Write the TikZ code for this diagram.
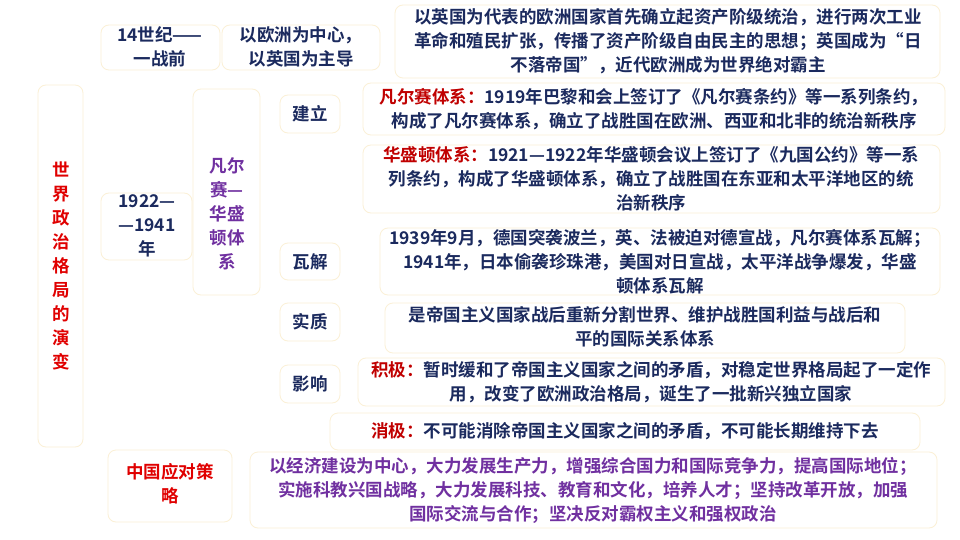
\documentclass[tikz,border=0pt]{standalone}
\usepackage{fontspec}
\setmainfont{Noto Sans CJK SC}[BoldFont={* Bold}]
\definecolor{navy}{HTML}{1B2A5E}
\definecolor{myred}{HTML}{E00000}
\definecolor{dred}{HTML}{C00000}
\definecolor{purp}{HTML}{7030A0}
\definecolor{edge}{HTML}{FBF0D6}
\begin{document}
\begin{tikzpicture}[x=1pt,y=-1pt,
  bx/.style={draw=edge,line width=0.8pt,rounded corners=8pt},
  tx/.style={font=\bfseries\fontsize{17.5}{24}\selectfont,text=navy,align=center,inner sep=0pt}]
\useasboundingbox[fill=white] (0,0) rectangle (960,540);
% boxes
\draw[bx] (101,25) rectangle (220,70);
\draw[bx] (222,25) rectangle (380,70);
\draw[bx] (395,5) rectangle (940,78);
\draw[bx] (38,85) rectangle (83,447);
\draw[bx] (101,193) rectangle (192,260);
\draw[bx] (193,89) rectangle (260,295);
\draw[bx] (280,95) rectangle (340,133);
\draw[bx] (363,83) rectangle (945,135);
\draw[bx] (363,145) rectangle (940,213);
\draw[bx] (280,243) rectangle (340,280);
\draw[bx] (380,228) rectangle (940,295);
\draw[bx] (280,303) rectangle (340,341);
\draw[bx] (385,303) rectangle (905,353);
\draw[bx] (280,365) rectangle (340,403);
\draw[bx] (358,358) rectangle (945,406);
\draw[bx] (330,413) rectangle (920,450);
\draw[bx] (108,450) rectangle (232,522);
\draw[bx] (250,452) rectangle (937,528);
% texts
\node[tx] (a) at (160,47) {14世纪——\\一战前};
\node[tx] (b) at (301,47) {以欧洲为中心，\\以英国为主导};
\node[tx] (c) at (668,41) {以英国为代表的欧洲国家首先确立起资产阶级统治，进行两次工业\\革命和殖民扩张，传播了资产阶级自由民主的思想；英国成为“日\\不落帝国”，近代欧洲成为世界绝对霸主};
\node[tx,text=myred] (root) at (61,266) {世\\界\\政\\治\\格\\局\\的\\演\\变};
\node[tx] (d) at (147,226) {1922—\\—1941\\年};
\node[tx,text=purp] (e) at (227,214) {凡尔\\赛—\\华盛\\顿体\\系};
\node[tx] (f1) at (310,114) {建立};
\node[tx] (f2) at (654,109) {\textcolor{dred}{凡尔赛体系：}1919年巴黎和会上签订了《凡尔赛条约》等一系列条约，\\构成了凡尔赛体系，确立了战胜国在欧洲、西亚和北非的统治新秩序};
\node[tx] (g) at (651,179) {\textcolor{dred}{华盛顿体系：}1921—1922年华盛顿会议上签订了《九国公约》等一系\\列条约，构成了华盛顿体系，确立了战胜国在东亚和太平洋地区的统\\治新秩序};
\node[tx] (h1) at (310,262) {瓦解};
\node[tx] (h2) at (660,262) {1939年9月，德国突袭波兰，英、法被迫对德宣战，凡尔赛体系瓦解；\\1941年，日本偷袭珍珠港，美国对日宣战，太平洋战争爆发，华盛\\顿体系瓦解};
\node[tx] (i1) at (310,322) {实质};
\node[tx] (i2) at (645,327) {是帝国主义国家战后重新分割世界、维护战胜国利益与战后和\\平的国际关系体系};
\node[tx] (j1) at (310,384) {影响};
\node[tx] (j2) at (651,382) {\textcolor{dred}{积极：}暂时缓和了帝国主义国家之间的矛盾，对稳定世界格局起了一定作\\用，改变了欧洲政治格局，诞生了一批新兴独立国家};
\node[tx] (k) at (625,431) {\textcolor{dred}{消极：}不可能消除帝国主义国家之间的矛盾，不可能长期维持下去};
\node[tx,text=myred] (l1) at (170,484) {中国应对策\\略};
\node[tx,text=purp] (l2) at (593,490) {以经济建设为中心，大力发展生产力，增强综合国力和国际竞争力，提高国际地位；\\实施科教兴国战略，大力发展科技、教育和文化，培养人才；坚持改革开放，加强\\国际交流与合作；坚决反对霸权主义和强权政治};
\end{tikzpicture}
\end{document}
